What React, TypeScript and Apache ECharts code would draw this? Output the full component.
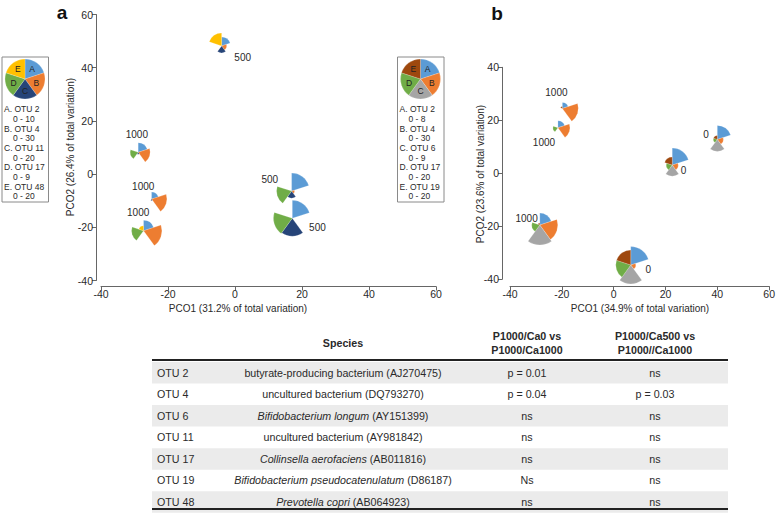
import React, { useEffect, useRef } from "react";
import * as echarts from "echarts";

// ---------- legend keys ----------
const segLetters = ["A", "B", "C", "D", "E"];
const otuKeyA = ["OTU 2", "OTU 4", "OTU 11", "OTU 17", "OTU 48"];
const rangeA = [10, 30, 20, 9, 20];
const otuKeyB = ["OTU 2", "OTU 4", "OTU 6", "OTU 17", "OTU 19"];
const rangeB = [8, 30, 9, 20, 20];
const colorsA = ["#5B9BD5", "#ED7D31", "#264478", "#70AD47", "#FFC000"];
const colorsB = ["#5B9BD5", "#ED7D31", "#A5A5A5", "#70AD47", "#9E480E"];

// ---------- panel a samples ----------
const pcoA1 = [-4.0, -28.9, -24.9, -27.3, 16.9, 17.1];
const pcoA2 = [48.2, 8.2, -9.4, -21.3, -6.4, -16.6];
const groupA = ["500", "1000", "1000", "1000", "500", "500"];
const labelA1 = [2.3, -29.3, -27.4, -28.9, 10.4, 24.6];
const labelA2 = [43.9, 14.7, -4.7, -14.5, -2.0, -20.0];
const otu2A = [4.5, 4.8, 3.5, 5.3, 9.0, 9.0];
const otu4A = [7.5, 18, 23, 27.5, 4.5, 0.5];
const otu11A = [7, 2, 1.5, 0.5, 7, 18];
const otu17A = [0, 3.6, 0, 5.4, 6.8, 8.5];
const otu48A = [13, 0, 0, 5, 0, 0];

// ---------- panel b samples ----------
const pcoB1 = [-19.8, -21.5, -28.5, 6.6, 22.6, 40.0];
const pcoB2 = [24.5, 17.2, -19.5, -34.6, 3.1, 12.8];
const groupB = ["1000", "1000", "1000", "0", "0", "0"];
const labelB1 = [-22.1, -26.9, -33.6, 13.4, 27.0, 35.6];
const labelB2 = [30.6, 11.5, -17.0, -36.2, 0.9, 14.8];
const otu2B = [2.4, 2.8, 4.8, 7.4, 6.8, 5.6];
const otu4B = [24, 18, 27, 7.5, 9, 9];
const otu6B = [0, 0, 9, 8.5, 5, 5.4];
const otu17B = [0, 5, 8, 15, 6, 4];
const otu19B = [2, 0, 2, 15, 8, 4];

// ---------- table ----------
const tableOtu = ["OTU 2", "OTU 4", "OTU 6", "OTU 11", "OTU 17", "OTU 19", "OTU 48"];
const tableSpecies = [
  "butyrate-producing bacterium",
  "uncultured bacterium",
  "Bifidobacterium longum",
  "uncultured bacterium",
  "Collinsella aerofaciens",
  "Bifidobacterium pseudocatenulatum",
  "Prevotella copri",
];
const tableItalic = [false, false, true, false, true, true, true];
const tableAccession = ["AJ270475", "DQ793270", "AY151399", "AY981842", "AB011816", "D86187", "AB064923"];
const tableCa0 = ["p = 0.01", "p = 0.04", "ns", "ns", "ns", "Ns", "ns"];
const tableCa500 = ["ns", "p = 0.03", "ns", "ns", "ns", "ns", "ns"];

const FONT = "'Liberation Sans', Arial, Helvetica, sans-serif";
const TXT = "#2a2a2a";
const AXC = "#666";
const MAXR = 20;
const TFS = 10.7;

function segAngles(i: number) {
  const s = -Math.PI / 2 + (i * 2 * Math.PI) / 5;
  return [s, s + (2 * Math.PI) / 5];
}

function pieSeries(idx: number, xs: number[], ys: number[], vals: number[][], ranges: number[], colors: string[]) {
  const data = xs.map((x, i) => [x, ys[i], ...vals.map((v) => v[i])]);
  return {
    type: "custom",
    xAxisIndex: idx,
    yAxisIndex: idx,
    clip: false,
    encode: { x: 0, y: 1 },
    data,
    renderItem: (params: any, api: any) => {
      const c = api.coord([api.value(0), api.value(1)]);
      const children: any[] = [];
      for (let k = 0; k < 5; k++) {
        const v = api.value(2 + k);
        const r = MAXR * Math.min(v / ranges[k], 1);
        if (r < 0.4) continue;
        const [s, e] = segAngles(k);
        children.push({
          type: "sector",
          shape: { cx: c[0], cy: c[1], r0: 0, r, startAngle: s, endAngle: e, clockwise: true },
          style: { fill: colors[k], stroke: "rgba(255,255,255,0.6)", lineWidth: 0.3 },
        });
      }
      return { type: "group", children };
    },
  };
}

function labelSeries(idx: number, xs: number[], ys: number[], texts: string[]) {
  return {
    type: "custom",
    xAxisIndex: idx,
    yAxisIndex: idx,
    clip: false,
    encode: { x: 0, y: 1 },
    data: xs.map((x, i) => [x, ys[i]]),
    renderItem: (params: any, api: any) => {
      const c = api.coord([api.value(0), api.value(1)]);
      return {
        type: "text",
        x: c[0],
        y: c[1],
        style: {
          text: texts[params.dataIndex],
          align: "center",
          verticalAlign: "middle",
          fontSize: 10,
          fontFamily: FONT,
          fill: TXT,
        },
      };
    },
  };
}

function legendKey(x0: number, otus: string[], ranges: number[], colors: string[]) {
  const cx = x0 + 23;
  const cy = 79;
  const r = 20;
  const els: any[] = [
    { type: "rect", shape: { x: x0, y: 57, width: 46.5, height: 145 }, style: { fill: "#fff", stroke: "#8a8a8a", lineWidth: 1 } },
  ];
  for (let k = 0; k < 5; k++) {
    const [s, e] = segAngles(k);
    els.push({
      type: "sector",
      shape: { cx, cy, r0: 0, r, startAngle: s, endAngle: e, clockwise: true },
      style: { fill: colors[k], stroke: "rgba(255,255,255,0.5)", lineWidth: 0.4 },
    });
    const m = (s + e) / 2;
    els.push({
      type: "text",
      x: cx + Math.cos(m) * r * 0.6,
      y: cy + Math.sin(m) * r * 0.6,
      style: { text: segLetters[k], align: "center", verticalAlign: "middle", fontSize: 8.5, fontFamily: FONT, fill: "#222" },
    });
  }
  for (let k = 0; k < 5; k++) {
    els.push({
      type: "text",
      x: x0 + 2,
      y: 109.3 + 19.3 * k,
      style: { text: `${segLetters[k]}. ${otus[k]}`, align: "left", verticalAlign: "middle", fontSize: 8.5, fontFamily: FONT, fill: TXT },
    });
    els.push({
      type: "text",
      x: x0 + 11,
      y: 119 + 19.3 * k,
      style: { text: `0 - ${ranges[k]}`, align: "left", verticalAlign: "middle", fontSize: 8.5, fontFamily: FONT, fill: TXT },
    });
  }
  return els;
}

function tableGraphics() {
  const els: any[] = [];
  const left = 152;
  const right = 728;
  const rowH = 21.55;
  const row0 = 372.7;
  for (let i = 0; i < tableOtu.length; i++) {
    const cy = row0 + rowH * i;
    if (i % 2 === 0) {
      els.push({ type: "rect", shape: { x: left, y: cy - rowH / 2, width: right - left, height: rowH }, style: { fill: "#ebebeb" } });
    }
    els.push({ type: "text", x: 157, y: cy, style: { text: tableOtu[i], align: "left", verticalAlign: "middle", fontSize: TFS, fontFamily: FONT, fill: TXT } });
    const st = tableItalic[i] ? "i" : "n";
    els.push({
      type: "text",
      x: 343,
      y: cy,
      style: {
        text: `{${st}|${tableSpecies[i]}}{n| (${tableAccession[i]})}`,
        align: "center",
        verticalAlign: "middle",
        fontSize: TFS,
        fontFamily: FONT,
        fill: TXT,
        rich: {
          i: { fontStyle: "italic", fontSize: TFS, fontFamily: FONT, fill: TXT },
          n: { fontSize: TFS, fontFamily: FONT, fill: TXT },
        },
      },
    });
    els.push({ type: "text", x: 527, y: cy, style: { text: tableCa0[i], align: "center", verticalAlign: "middle", fontSize: TFS, fontFamily: FONT, fill: TXT } });
    els.push({ type: "text", x: 655, y: cy, style: { text: tableCa500[i], align: "center", verticalAlign: "middle", fontSize: TFS, fontFamily: FONT, fill: TXT } });
  }
  const hdr = { fontSize: TFS, fontWeight: "bold", fontFamily: FONT, fill: TXT, align: "center", verticalAlign: "middle" };
  els.push({ type: "text", x: 343, y: 343, style: { ...hdr, text: "Species" } });
  els.push({ type: "text", x: 527, y: 336, style: { ...hdr, text: "P1000/Ca0 vs" } });
  els.push({ type: "text", x: 527, y: 350, style: { ...hdr, text: "P1000/Ca1000" } });
  els.push({ type: "text", x: 655, y: 336, style: { ...hdr, text: "P1000/Ca500 vs" } });
  els.push({ type: "text", x: 655, y: 350, style: { ...hdr, text: "P1000//Ca1000" } });
  els.push({ type: "line", shape: { x1: left, y1: 360, x2: right, y2: 360 }, style: { stroke: "#222", lineWidth: 2 } });
  els.push({ type: "line", shape: { x1: left, y1: 509, x2: right, y2: 509 }, style: { stroke: "#222", lineWidth: 2 } });
  return els;
}

function axisDef(gridIndex: number, min: number, max: number, offset: number, isX: boolean) {
  return {
    type: "value",
    gridIndex,
    min,
    max,
    interval: 20,
    offset,
    axisLine: { show: true, onZero: false, lineStyle: { color: AXC, width: 1 } },
    axisTick: { show: true, length: 4, lineStyle: { color: AXC } },
    axisLabel: { fontSize: 10.5, color: TXT, fontFamily: FONT, margin: isX ? 2 : 3 },
    splitLine: { show: false },
  };
}

export default function App() {
  const ref = useRef<HTMLDivElement>(null);
  useEffect(() => {
    if (!ref.current) return;
    const chart = echarts.init(ref.current, undefined, { renderer: "svg" });
    const titleStyle = { fontSize: 10, fontFamily: FONT, fill: TXT, align: "center", verticalAlign: "middle" };
    chart.setOption({
      animation: false,
      backgroundColor: "#fff",
      grid: [
        { left: 101, top: 14.5, width: 335, height: 266 },
        { left: 510, top: 67.3, width: 261, height: 212 },
      ],
      xAxis: [axisDef(0, -40, 60, 6, true), axisDef(1, -40, 60, 7, true)],
      yAxis: [axisDef(0, -40, 60, 5, false), axisDef(1, -40, 40, 8, false)],
      series: [
        pieSeries(0, pcoA1, pcoA2, [otu2A, otu4A, otu11A, otu17A, otu48A], rangeA, colorsA),
        labelSeries(0, labelA1, labelA2, groupA),
        pieSeries(1, pcoB1, pcoB2, [otu2B, otu4B, otu6B, otu17B, otu19B], rangeB, colorsB),
        labelSeries(1, labelB1, labelB2, groupB),
      ],
      graphic: [
        ...legendKey(2, otuKeyA, rangeA, colorsA),
        ...legendKey(397.5, otuKeyB, rangeB, colorsB),
        { type: "text", x: 62, y: 12, style: { text: "a", fontSize: 19, fontWeight: "bold", fontFamily: FONT, fill: "#111", align: "center", verticalAlign: "middle" } },
        { type: "text", x: 497, y: 13, style: { text: "b", fontSize: 19, fontWeight: "bold", fontFamily: FONT, fill: "#111", align: "center", verticalAlign: "middle" } },
        { type: "text", x: 238, y: 308, style: { ...titleStyle, text: "PCO1 (31.2% of total variation)" } },
        { type: "text", x: 640, y: 308, style: { ...titleStyle, text: "PCO1 (34.9% of total variation)" } },
        { type: "text", x: 70, y: 147, rotation: Math.PI / 2, style: { ...titleStyle, text: "PCO2 (26.4% of total variation)" } },
        { type: "text", x: 480, y: 174, rotation: Math.PI / 2, style: { ...titleStyle, text: "PCO2 (23.6% of total variation)" } },
        ...tableGraphics(),
      ],
    });
    return () => chart.dispose();
  }, []);
  return <div ref={ref} style={{ position: "absolute", left: 0, top: 0, width: 778, height: 514 }} />;
}
